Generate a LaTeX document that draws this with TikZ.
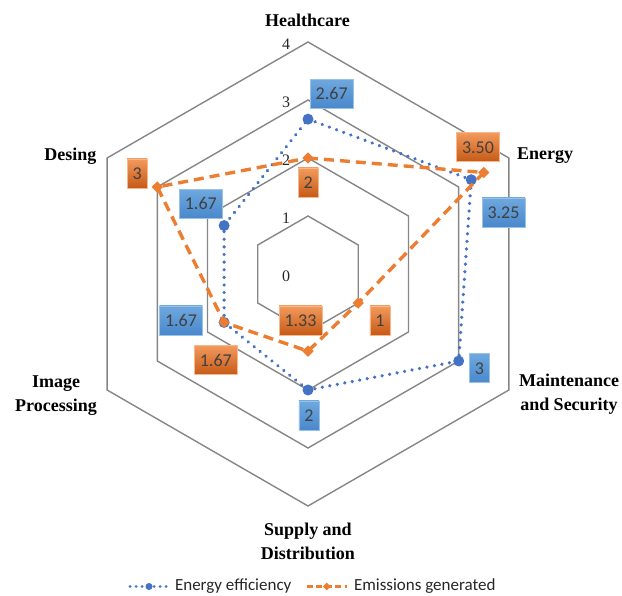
\documentclass[tikz,border=0pt]{standalone}
\usepackage{fontspec}
\setmainfont{Liberation Serif}
\newfontfamily\calib{Carlito}
\usetikzlibrary{shapes.geometric,calc}
\definecolor{eblue}{HTML}{4472C4}
\definecolor{eorange}{HTML}{ED7D31}
\definecolor{gridgray}{HTML}{868686}
\definecolor{labgray}{HTML}{404040}
\definecolor{bluetop}{HTML}{6EA8DE}
\definecolor{bluebot}{HTML}{4A88CC}
\definecolor{orangetop}{HTML}{F39A5C}
\definecolor{orangebot}{HTML}{C65A17}
\begin{document}
\begin{tikzpicture}[x=1pt,y=-1pt,
  gridline/.style={draw=gridgray,line width=1.4pt,line join=miter},
  effline/.style={draw=eblue,line width=3.6pt,line cap=round,dash pattern=on 0.01pt off 7.6pt},
  emiline/.style={draw=eorange,line width=3.4pt,dash pattern=on 10pt off 6pt},
  effmark/.style={circle,fill=eblue,inner sep=0pt,minimum size=11pt},
  emimark/.style={diamond,fill=eorange,inner sep=0pt,minimum width=11.5pt,minimum height=11.5pt},
  catlab/.style={font=\bfseries\fontsize{18}{24}\selectfont,align=center,text=black},
  axnum/.style={font=\fontsize{16}{18}\selectfont,text=black!85},
  datalab/.style={rectangle,font=\calib\fontsize{18}{20}\selectfont,text=labgray,
    inner xsep=5.5pt,inner ysep=0pt,minimum height=29pt,text height=12.5pt,text depth=0pt},
  bluelab/.style={datalab,top color=bluetop,bottom color=bluebot,draw=bluetop!70!white,line width=0.4pt},
  orangelab/.style={datalab,top color=orangetop,bottom color=orangebot,draw=orangetop!70!white,line width=0.4pt},
  legtext/.style={font=\calib\fontsize{17}{20}\selectfont,text=black!85,anchor=west}
]
\useasboundingbox (0,0) rectangle (622,596);
\coordinate (C) at (308,274);
% grid hexagons
\foreach \k in {1,2,3,4}{
  \draw[gridline] ($(C)+(-90:58*\k)$) -- ($(C)+(-30:58*\k)$) -- ($(C)+(30:58*\k)$)
    -- ($(C)+(90:58*\k)$) -- ($(C)+(150:58*\k)$) -- ($(C)+(210:58*\k)$) -- cycle;
}
% axis numbers
\node[axnum] (n0) at (286,276) {0};
\node[axnum] (n1) at (286,218) {1};
\node[axnum] (n2) at (286,160) {2};
\node[axnum] (n3) at (286,102) {3};
\node[axnum] (n4) at (286,44) {4};
% category labels
\node[catlab] (lh) at (307.5,20) {Healthcare};
\node[catlab] (le) at (545,156) {Energy};
\node[catlab] (lm) at (569,394) {Maintenance\\and Security};
\node[catlab] (ls) at (308,541) {Supply and\\Distribution};
\node[catlab] (li) at (56,396) {Image\\Processing};
\node[catlab] (ld) at (70.5,156) {Desing};
% data points
\coordinate (b1) at ($(C)+(-90:58*2.67)$);
\coordinate (b2) at ($(C)+(-30:58*3.25)$);
\coordinate (b3) at ($(C)+(30:58*3)$);
\coordinate (b4) at ($(C)+(90:58*2)$);
\coordinate (b5) at ($(C)+(150:58*1.67)$);
\coordinate (b6) at ($(C)+(210:58*1.67)$);
\coordinate (o1) at ($(C)+(-90:58*2)$);
\coordinate (o2) at ($(C)+(-30:58*3.5)$);
\coordinate (o3) at ($(C)+(30:58*1)$);
\coordinate (o4) at ($(C)+(90:58*1.33)$);
\coordinate (o5) at ($(C)+(150:58*1.67)$);
\coordinate (o6) at ($(C)+(210:58*3)$);
% energy efficiency series
\draw[effline] (b1) -- (b2) -- (b3) -- (b4) -- (b5) -- (b6) -- cycle;
\foreach \p in {b1,b2,b3,b4,b5,b6} \node[effmark] (m\p) at (\p) {};
% emissions series
\draw[emiline] (o1) -- (o2) -- (o3) -- (o4) -- (o5) -- (o6) -- cycle;
\foreach \p in {o1,o2,o3,o4,o5,o6} \node[emimark] (m\p) at (\p) {};
% data labels
\node[bluelab] (db1) at (331.7,93.7) {2.67};
\node[bluelab] (db2) at (503.5,212.5) {3.25};
\node[bluelab] (db3) at (479.5,368) {3};
\node[bluelab] (db4) at (309,415.5) {2};
\node[bluelab] (db5) at (181,320.3) {1.67};
\node[bluelab] (db6) at (200.8,203.7) {1.67};
\node[orangelab] (do1) at (308.2,182.5) {2};
\node[orangelab] (do2) at (478,147) {3.50};
\node[orangelab] (do3) at (380,320.5) {1};
\node[orangelab] (do4) at (300.5,320.5) {1.33};
\node[orangelab] (do5) at (215.8,360) {1.67};
\node[orangelab] (do6) at (137.3,173.3) {3};
% legend
\coordinate (lb1) at (130,586.5);
\coordinate (lb2) at (168,586.5);
\draw[effline,line width=3pt,dash pattern=on 0.01pt off 6pt] (lb1) -- (lb2);
\node[effmark,minimum size=7pt] (lbm) at (149,586.5) {};
\node[legtext] (lbt) at (171.5,586.5) {Energy efficiency};
\coordinate (lo1) at (306.5,586.5);
\coordinate (lo2) at (347,586.5);
\draw[emiline,line width=2.6pt,dash pattern=on 6pt off 3.5pt] (lo1) -- (lo2);
\node[emimark,minimum width=8pt,minimum height=8pt] (lom) at (326.7,586.5) {};
\node[legtext] (lot) at (350.5,586.5) {Emissions generated};
\end{tikzpicture}
\end{document}
